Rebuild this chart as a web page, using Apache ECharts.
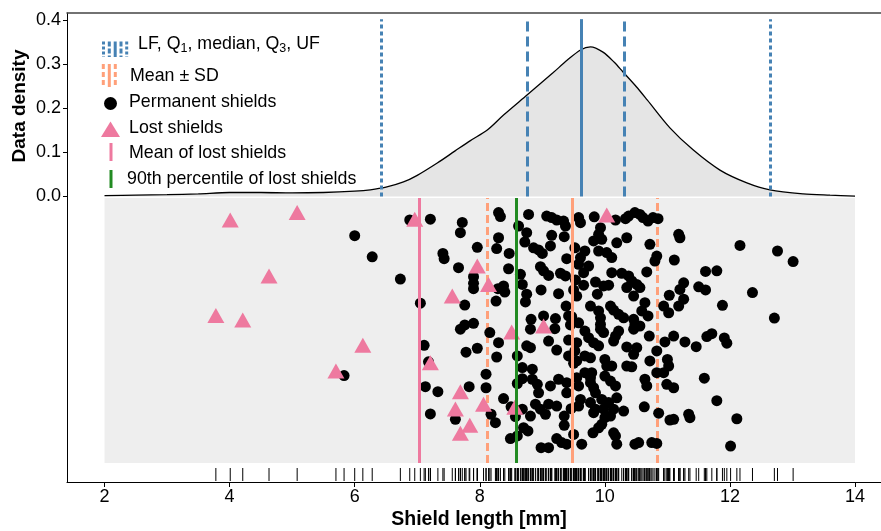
<!DOCTYPE html>
<html>
<head>
<meta charset="utf-8">
<script src="https://cdn.jsdelivr.net/npm/echarts@6/dist/echarts.min.js"></script>
<style>
  html, body { margin: 0; padding: 0; background: #fff; }
  #chart { width: 881px; height: 531px; }
</style>
</head>
<body>
<div id="chart"></div>
<script>
// Density curve (shield length in mm -> density)
const densityX = [2.0, 2.5, 3.0, 3.5, 4.0, 4.5, 5.0, 5.5, 6.0, 6.25, 6.5, 6.78, 7.0, 7.32, 7.6, 7.85, 8.12, 8.38, 8.76, 9.17, 9.4, 9.61, 9.77, 9.97, 10.15, 10.29, 10.5, 10.68, 11.04, 11.41, 11.84, 12.27, 12.64, 13.17, 13.6, 14.0];
const densityY = [0.002, 0.003, 0.004, 0.006, 0.009, 0.009, 0.008, 0.009, 0.012, 0.015, 0.021, 0.033, 0.048, 0.076, 0.103, 0.127, 0.151, 0.185, 0.231, 0.281, 0.31, 0.333, 0.340, 0.328, 0.305, 0.283, 0.25, 0.219, 0.156, 0.106, 0.06, 0.031, 0.015, 0.006, 0.003, 0.001];

// LF, Q1, median, Q3, UF
const boxStats = [6.43, 8.76, 9.62, 10.31, 12.64];
// mean - SD, mean, mean + SD
const meanSd = [8.12, 9.48, 10.84];
const lostMean = 7.03;
const lost90 = 8.58;

// [length mm, vertical jitter 0..1]
const lostShields = [
  [4.01, 0.917], [5.08, 0.945], [4.63, 0.706], [3.78, 0.557], [4.21, 0.54], [6.13, 0.444], [5.70, 0.347],
  [6.96, 0.92], [7.21, 0.378], [7.56, 0.63], [7.69, 0.269], [7.61, 0.204], [7.84, 0.142], [7.69, 0.112],
  [7.96, 0.743], [8.14, 0.674], [8.51, 0.494], [8.06, 0.222], [8.56, 0.21], [9.02, 0.517], [10.03, 0.936]
];

const permanentShields = [
  [5.83, 0.33], [6.0, 0.858], [6.28, 0.778], [6.73, 0.694], [6.88, 0.917], [7.05, 0.603], [7.21, 0.92],
  [7.72, 0.908], [7.69, 0.869], [7.96, 0.814], [7.41, 0.791], [7.43, 0.771], [7.66, 0.737], [7.9, 0.703],
  [7.9, 0.678], [7.9, 0.658], [7.76, 0.596], [7.9, 0.527], [7.76, 0.521], [7.69, 0.505], [7.11, 0.444],
  [7.18, 0.382], [7.78, 0.418], [7.96, 0.433], [7.13, 0.288], [7.33, 0.269], [7.83, 0.288], [7.21, 0.185],
  [7.61, 0.165],
  [8.30, 0.945], [8.33, 0.93], [8.30, 0.85], [8.27, 0.809], [8.47, 0.791], [8.46, 0.733], [8.29, 0.658],
  [8.38, 0.668], [8.40, 0.645], [8.26, 0.611], [8.16, 0.492], [8.30, 0.454], [8.27, 0.4], [8.10, 0.335],
  [8.10, 0.284], [8.38, 0.243], [8.50, 0.212], [8.18, 0.184], [8.25, 0.152], [8.49, 0.092],
  [8.78, 0.938], [9.07, 0.932], [9.15, 0.926], [9.23, 0.917], [9.34, 0.913], [9.37, 0.894], [8.62, 0.894],
  [8.75, 0.869], [8.72, 0.834], [9.15, 0.859], [9.35, 0.854], [9.13, 0.819], [8.86, 0.812], [8.94, 0.804],
  [9.0, 0.791], [9.39, 0.771], [8.97, 0.741], [9.02, 0.725], [9.1, 0.708], [9.29, 0.716], [9.37, 0.706],
  [8.65, 0.712], [8.68, 0.674], [8.98, 0.653], [9.26, 0.639], [8.75, 0.637], [8.73, 0.608], [9.38, 0.592],
  [9.42, 0.555], [8.82, 0.542], [9.02, 0.555], [9.21, 0.545], [9.2, 0.507], [8.81, 0.505], [9.1, 0.46],
  [8.75, 0.442], [8.81, 0.435], [9.23, 0.426], [9.42, 0.464], [8.6, 0.404], [8.68, 0.36], [8.84, 0.354],
  [9.42, 0.404], [8.68, 0.318], [8.84, 0.316], [8.92, 0.297], [8.94, 0.265], [9.13, 0.291], [9.26, 0.316],
  [9.39, 0.303], [9.39, 0.265], [8.68, 0.203], [8.81, 0.177], [8.89, 0.222], [8.97, 0.203], [9.05, 0.184],
  [9.1, 0.222], [9.23, 0.215], [9.35, 0.177], [9.35, 0.142], [8.7, 0.133], [8.77, 0.121], [9.23, 0.092],
  [9.31, 0.077], [9.39, 0.071], [8.98, 0.058], [9.1, 0.058], [8.6, 0.102], [8.6, 0.3], [8.57, 0.175],
  [9.58, 0.926], [9.61, 0.907], [9.83, 0.929], [10.17, 0.917], [10.33, 0.922], [9.93, 0.888], [9.9, 0.863],
  [9.82, 0.838], [9.95, 0.844], [10.19, 0.831], [10.35, 0.85], [9.52, 0.812], [9.68, 0.8], [9.61, 0.775],
  [9.58, 0.75], [9.9, 0.8], [10.03, 0.794], [10.11, 0.775], [9.74, 0.743], [9.66, 0.718], [10.11, 0.718],
  [10.27, 0.716], [9.85, 0.683], [9.98, 0.668], [10.06, 0.671], [9.66, 0.671], [9.55, 0.63], [9.88, 0.637],
  [9.77, 0.592], [10.09, 0.592], [10.14, 0.577], [10.22, 0.561], [10.3, 0.548], [9.9, 0.574], [9.93, 0.548],
  [9.93, 0.523], [9.58, 0.529], [9.68, 0.498], [9.74, 0.473], [9.82, 0.454], [9.9, 0.442], [9.93, 0.505],
  [9.98, 0.492], [10.22, 0.498], [10.17, 0.479], [10.14, 0.46], [10.35, 0.438], [9.55, 0.454], [9.52, 0.423],
  [9.55, 0.385], [9.68, 0.404], [9.77, 0.397], [10.0, 0.391], [10.03, 0.366], [10.11, 0.366], [10.35, 0.366],
  [9.68, 0.341], [9.79, 0.341], [9.77, 0.322], [9.77, 0.303], [9.82, 0.284], [9.85, 0.265], [9.55, 0.322],
  [9.58, 0.291], [10.0, 0.328], [10.09, 0.309], [10.17, 0.291], [9.61, 0.24], [9.58, 0.215], [9.77, 0.228],
  [9.85, 0.203], [9.82, 0.19], [9.95, 0.24], [10.06, 0.228], [9.98, 0.203], [10.19, 0.246], [10.3, 0.196],
  [10.0, 0.171], [9.95, 0.146], [9.9, 0.133], [10.14, 0.203], [10.09, 0.177], [9.5, 0.108], [9.81, 0.114],
  [10.14, 0.114], [10.17, 0.102], [9.63, 0.071], [10.19, 0.071], [9.53, 0.691], [9.5, 0.653], [9.47, 0.552],
  [9.45, 0.521], [9.5, 0.376], [9.46, 0.205],
  [10.38, 0.932], [10.48, 0.945], [10.56, 0.938], [10.61, 0.926], [10.69, 0.913], [10.77, 0.926], [10.85, 0.922],
  [10.72, 0.825], [11.18, 0.863], [11.2, 0.85], [10.83, 0.781], [10.8, 0.762], [11.11, 0.766], [10.67, 0.721],
  [10.38, 0.706], [10.43, 0.687], [10.51, 0.674], [10.56, 0.662], [10.35, 0.662], [10.46, 0.63], [11.26, 0.68],
  [11.2, 0.655], [11.03, 0.633], [11.26, 0.618], [11.18, 0.592], [10.94, 0.592], [11.02, 0.567], [10.64, 0.605],
  [10.59, 0.574], [10.69, 0.555], [10.46, 0.542], [10.48, 0.523], [10.46, 0.505], [10.56, 0.517], [10.71, 0.479],
  [11.1, 0.479], [10.96, 0.457], [11.28, 0.457], [10.51, 0.435], [10.46, 0.41], [10.83, 0.423], [10.72, 0.385],
  [11.0, 0.391], [11.02, 0.366], [10.94, 0.341], [10.83, 0.341], [10.43, 0.363], [10.64, 0.316], [10.67, 0.291],
  [10.99, 0.297], [11.1, 0.284], [10.63, 0.212], [10.86, 0.188], [11.04, 0.162], [11.1, 0.165], [11.34, 0.184],
  [10.48, 0.071], [10.54, 0.077], [10.75, 0.077], [10.83, 0.074],
  [12.16, 0.821], [12.76, 0.8], [13.01, 0.76], [11.61, 0.723], [11.79, 0.725], [11.5, 0.665], [11.61, 0.653],
  [12.36, 0.643], [11.88, 0.595], [12.71, 0.547], [11.63, 0.477], [11.71, 0.488], [11.91, 0.472], [11.95, 0.452],
  [11.46, 0.439], [11.59, 0.32], [11.79, 0.235], [11.36, 0.171], [12.11, 0.167], [12.01, 0.064]
];

const xTicks = [2, 4, 6, 8, 10, 12, 14];
const yTicks = [0, 0.1, 0.2, 0.3, 0.4];

const BLUE = '#4682B4';
const ORANGE = '#FFA07A';
const PINK = '#EE799F';
const GREEN = '#228B22';
const FONT = '"Liberation Sans", Arial, sans-serif';

const chart = echarts.init(document.getElementById('chart'), null, { renderer: 'canvas' });

// vertical line helper for markLine
function vline(x, y0, y1, color, type) {
    return [
        { coord: [x, y0], lineStyle: { color: color, width: 3, type: type } },
        { coord: [x, y1] }
    ];
}

const boxTypes = [[4, 3], [10, 5], 'solid', [10, 5], [4, 3]];
const upperLines = boxStats.map((v, i) => vline(v, 0, 0.403, BLUE, boxTypes[i]));
const dashedLower = [vline(meanSd[0], 0, 1, ORANGE, [8, 4]), vline(meanSd[2], 0, 1, ORANGE, [8, 4])];
const solidLower = [
    vline(lostMean, 0, 1, PINK, 'solid'),
    vline(lost90, 0, 1, GREEN, 'solid'),
    vline(meanSd[1], 0, 1, ORANGE, 'solid')
];

const rugData = permanentShields.concat(lostShields).map(d => [d[0], -0.043]);

function markLineOpt(data, z) {
    return {
        silent: true,
        z: z,
        symbol: ['none', 'none'],
        label: { show: false },
        emphasis: { disabled: true },
        animation: false,
        data: data
    };
}

// legend drawn by hand
function legendLine(x, y1, y2, color, dash) {
    return {
        type: 'line',
        shape: { x1: x, y1: y1, x2: x, y2: y2 },
        style: { stroke: color, lineWidth: 3, lineDash: dash || null }
    };
}
function legendText(x, y, text) {
    return {
        type: 'text', x: x, y: y,
        style: { text: text, fill: '#000', font: '17.8px ' + FONT, textVerticalAlign: 'middle' }
    };
}

const graphics = [
    legendLine(103.5, 41.5, 57, BLUE, [3, 2]),
    legendLine(109.3, 41.5, 57, BLUE, [5, 2]),
    legendLine(115.2, 41.5, 57, BLUE),
    legendLine(121, 41.5, 57, BLUE, [5, 2]),
    legendLine(126.7, 41.5, 57, BLUE, [3, 2]),
    {
        type: 'text', x: 138, y: 44,
        style: {
            text: '{a|LF, Q}{b|1}{a|, median, Q}{b|3}{a|, UF}',
            fill: '#000',
            textVerticalAlign: 'middle',
            rich: {
                a: { fontSize: 17.8, fontFamily: FONT, lineHeight: 22, fill: '#000' },
                b: { fontSize: 12.5, fontFamily: FONT, lineHeight: 12, verticalAlign: 'bottom', fill: '#000' }
            }
        }
    },
    legendLine(103.3, 64, 87, ORANGE, [5, 3]),
    legendLine(109.3, 64, 87, ORANGE),
    legendLine(115.3, 64, 87, ORANGE, [5, 3]),
    legendText(130, 76, 'Mean ± SD'),
    { type: 'circle', shape: { cx: 110.5, cy: 103.5, r: 6.5 }, style: { fill: '#000' } },
    legendText(129, 102, 'Permanent shields'),
    { type: 'polygon', shape: { points: [[110.5, 121.5], [120, 137], [101, 137]] }, style: { fill: PINK } },
    legendText(129, 128, 'Lost shields'),
    legendLine(111, 143, 161, PINK),
    legendText(129, 153, 'Mean of lost shields'),
    legendLine(111, 170, 188, GREEN),
    legendText(127, 179, '90th percentile of lost shields'),
    {
        type: 'text', x: 20, y: 106, rotation: Math.PI / 2,
        style: { text: 'Data density', fill: '#000', font: 'bold 19px ' + FONT, textAlign: 'center', textVerticalAlign: 'middle' }
    },
    {
        type: 'text', x: 479, y: 520,
        style: { text: 'Shield length [mm]', fill: '#000', font: 'bold 19.5px ' + FONT, textAlign: 'center', textVerticalAlign: 'middle' }
    }
];

const X_MIN = 1.4;
const X_MAX = 14.415;

const option = {
    animation: false,
    backgroundColor: '#fff',
    grid: { left: 67, top: 13, right: 0, height: 469, containLabel: false },
    xAxis: [
        {
            type: 'value', min: X_MIN, max: X_MAX, position: 'bottom',
            axisLine: { show: true, onZero: false, lineStyle: { color: '#000', width: 1 } },
            axisTick: { show: true, length: 5, customValues: xTicks, lineStyle: { color: '#000' } },
            axisLabel: { customValues: xTicks, fontSize: 18, fontFamily: FONT, color: '#000', margin: 6 },
            splitLine: { show: false }
        },
        {
            type: 'value', min: X_MIN, max: X_MAX, position: 'top',
            axisLine: { show: true, onZero: false, lineStyle: { color: '#444', width: 1.5 } },
            axisTick: { show: false },
            axisLabel: { show: false },
            splitLine: { show: false }
        }
    ],
    yAxis: [
        {
            type: 'value', min: -0.6489, max: 0.417,
            axisLine: { show: true, onZero: false, lineStyle: { color: '#000', width: 1 } },
            axisTick: { show: true, length: 4, customValues: yTicks, lineStyle: { color: '#000' } },
            axisLabel: {
                customValues: yTicks, fontSize: 18, fontFamily: FONT, color: '#000', margin: 6,
                formatter: v => v.toFixed(1)
            },
            splitLine: { show: false }
        },
        {
            type: 'value', min: -0.0717, max: 1.6981, show: false,
            splitLine: { show: false }
        }
    ],
    graphic: graphics,
    series: [
        {
            name: 'panel', type: 'line', xAxisIndex: 0, yAxisIndex: 1, data: [], z: 1,
            markArea: {
                silent: true,
                z: 1,
                itemStyle: { color: '#eeeeee' },
                data: [[{ coord: [2, 0] }, { coord: [14, 1] }]]
            }
        },
        {
            name: 'density', type: 'line', xAxisIndex: 0, yAxisIndex: 0, z: 2,
            data: densityX.map((x, i) => [x, densityY[i]]),
            smooth: 0.3, symbol: 'none',
            lineStyle: { color: '#000', width: 1.3 },
            areaStyle: { color: '#e5e5e5', opacity: 1 }
        },
        {
            name: 'meanSdDashed', type: 'line', xAxisIndex: 0, yAxisIndex: 1, data: [], z: 3,
            markLine: markLineOpt(dashedLower, 3)
        },
        {
            name: 'Permanent shields', type: 'scatter', xAxisIndex: 0, yAxisIndex: 1, z: 4,
            data: permanentShields, symbol: 'circle', symbolSize: 11,
            itemStyle: { color: '#000', opacity: 1 }
        },
        {
            name: 'rug', type: 'scatter', xAxisIndex: 0, yAxisIndex: 1, z: 4,
            data: rugData, symbol: 'rect', symbolSize: [1, 13],
            itemStyle: { color: '#000', opacity: 1 }
        },
        {
            name: 'Lost shields', type: 'scatter', xAxisIndex: 0, yAxisIndex: 1, z: 5,
            data: lostShields, symbol: 'triangle', symbolSize: [17, 15],
            itemStyle: { color: PINK, opacity: 1 }
        },
        {
            name: 'solidLower', type: 'line', xAxisIndex: 0, yAxisIndex: 1, data: [], z: 6,
            markLine: markLineOpt(solidLower, 6)
        },
        {
            name: 'boxLines', type: 'line', xAxisIndex: 0, yAxisIndex: 0, data: [], z: 6,
            markLine: markLineOpt(upperLines, 6)
        }
    ]
};

chart.setOption(option);
window.addEventListener('resize', chart.resize);
</script>
</body>
</html>
